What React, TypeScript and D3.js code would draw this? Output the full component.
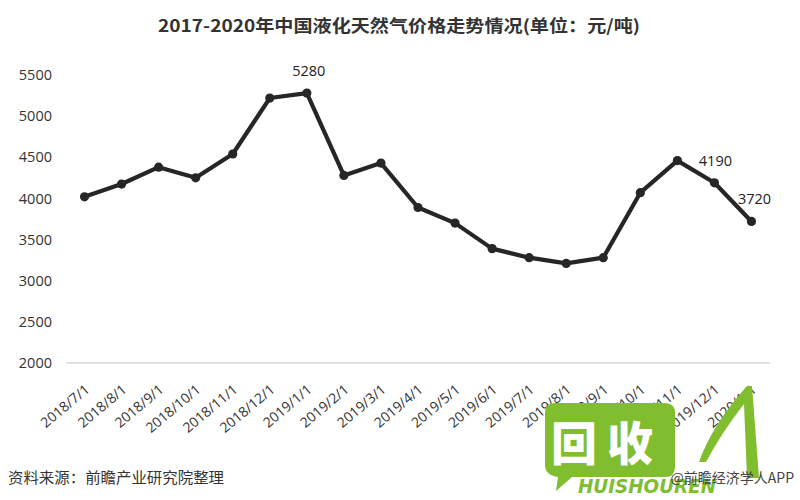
import React from "react";
import * as d3 from "d3";

const categories = [
  "2018/7/1", "2018/8/1", "2018/9/1", "2018/10/1", "2018/11/1", "2018/12/1",
  "2019/1/1", "2019/2/1", "2019/3/1", "2019/4/1", "2019/5/1", "2019/6/1",
  "2019/7/1", "2019/8/1", "2019/9/1", "2019/10/1", "2019/11/1", "2019/12/1", "2020/1/1",
];
const prices = [
  4020, 4175, 4380, 4250, 4540, 5220, 5280, 4280, 4430, 3890, 3700, 3390,
  3280, 3210, 3280, 4070, 4460, 4190, 3720,
];
const labelledIndices = [6, 17, 18];
const yTicks = [2000, 2500, 3000, 3500, 4000, 4500, 5000, 5500];

const title = "2017-2020年中国液化天然气价格走势情况(单位：元/吨)";
const source = "资料来源：前瞻产业研究院整理";
const credit = "@前瞻经济学人APP";

export default function App() {
  const W = 800, H = 500;
  const x = d3.scalePoint<string>().domain(categories).range([66, 770]).padding(0.5);
  const y = d3.scaleLinear().domain([2000, 5500]).range([363, 75]);
  const line = d3.line<number>().x((_, i) => x(categories[i]) as number).y((d) => y(d));
  const tickFont = "'Open Sans', 'DejaVu Sans', sans-serif";
  const green = "#80bd2f";

  return (
    <div style={{ position: "fixed", left: 0, top: 0, width: W, height: H, background: "#fff" }}>
      <svg width={W} height={H} style={{ display: "block" }}>
        <rect width={W} height={H} fill="#fff" />
        <text x={399} y={32} textAnchor="middle" fontFamily="'Noto Sans CJK SC', sans-serif"
          fontWeight="bold" fontSize={17} fill="#333" textLength={482} lengthAdjust="spacingAndGlyphs">
          {title}
        </text>

        {yTicks.map((t) => (
          <text key={t} x={52} y={y(t)} dy="0.35em" textAnchor="end" fontFamily={tickFont}
            fontSize={14.5} fill="#333">{t}</text>
        ))}

        <line x1={66} x2={770} y1={y(2000)} y2={y(2000)} stroke="#c8c8c8" strokeWidth={1.2} />

        {categories.map((c) => {
          const cx = (x(c) as number) + 6;
          return (
            <text key={c} transform={`translate(${cx},391) rotate(-40)`} textAnchor="end"
              fontFamily={tickFont} fontSize={14} fill="#333">{c}</text>
          );
        })}

        <path d={line(prices) || ""} fill="none" stroke="#262626" strokeWidth={4.2}
          strokeLinejoin="round" />
        {prices.map((p, i) => (
          <circle key={i} cx={x(categories[i])} cy={y(p)} r={4.6} fill="#262626" />
        ))}

        {labelledIndices.map((i) => (
          <text key={i} x={(x(categories[i]) as number) + (i === 6 ? 2 : i === 17 ? 1 : 3)}
            y={y(prices[i]) - 17} textAnchor="middle" fontFamily={tickFont} fontSize={14.5} fill="#222">
            {prices[i]}
          </text>
        ))}

        <text x={8} y={483} fontFamily="'Noto Sans CJK SC', sans-serif" fontSize={15} fill="#333"
          textLength={216} lengthAdjust="spacingAndGlyphs">{source}</text>

        {/* watermark logo */}
        <g>
          <path d="M555,403 H665 Q675,403 675,413 V467 Q675,477 665,477 H572 L556,491 L558,477 Q545,475 545,465 V413 Q545,403 555,403 Z"
            fill={green} />
          <text x={574} y={460} textAnchor="middle" fontFamily="'Noto Sans CJK SC', sans-serif"
            fontWeight="900" fontSize={46} fill="#fff">回</text>
          <text x={630} y={460} textAnchor="middle" fontFamily="'Noto Sans CJK SC', sans-serif"
            fontWeight="900" fontSize={46} fill="#fff">收</text>
          <text x={578} y={493} fontFamily="'DejaVu Sans', sans-serif" fontWeight="bold"
            fontStyle="italic" fontSize={20} fill={green} textLength={138} lengthAdjust="spacingAndGlyphs">HUISHOUREN</text>
          <path d="M699,462 Q712,425 747,386 L752,386 L759,478 L747,478 L744,404 Q722,432 706,462 Z" fill={green} />
        </g>

        <text x={794} y={483} textAnchor="end" fontFamily="'Noto Sans CJK SC', sans-serif"
          fontSize={14} fill="#444">{credit}</text>
      </svg>
    </div>
  );
}
